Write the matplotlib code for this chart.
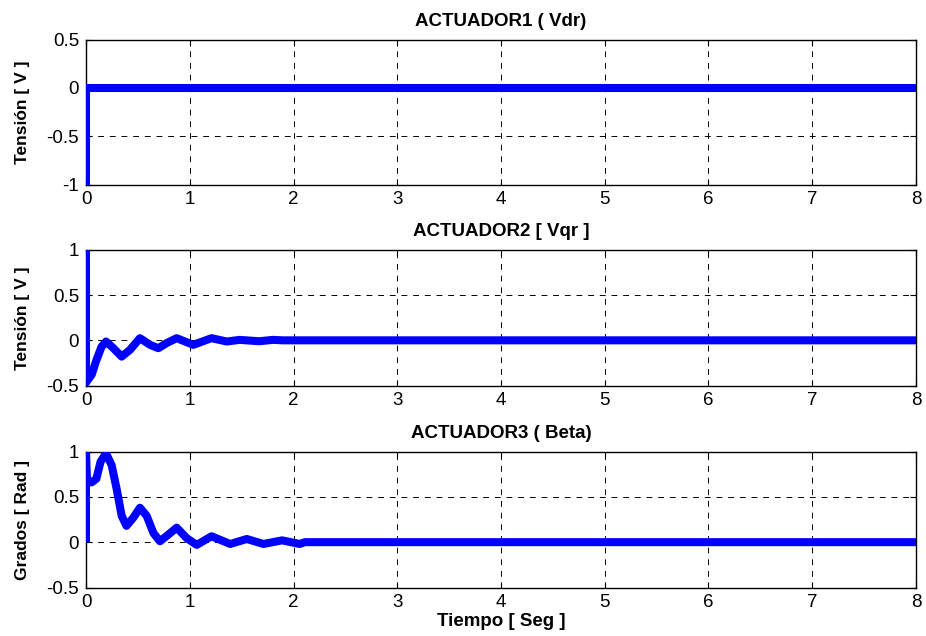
import matplotlib
matplotlib.use("Agg")
import matplotlib.pyplot as plt

plt.rcParams['font.family'] = ['Liberation Sans', 'DejaVu Sans']

# Actuator 1 (Vdr): step from -1 to 0 right at start, then flat
t1 = [0.0, 0.0, 8.0]
v1 = [-1.0, 0.0, 0.0]

# Actuator 2 (Vqr): damped oscillation settling to 0
t2 = [0.0, 0.0, 0.006, 0.055, 0.10, 0.15, 0.193, 0.264, 0.344, 0.424, 0.52,
      0.617, 0.697, 0.778, 0.874, 1.034, 1.21, 1.356, 1.48, 1.67, 1.80, 1.90, 8.0]
v2 = [1.0, -0.47, -0.457, -0.38, -0.22, -0.07, -0.013, -0.087, -0.18, -0.105, 0.024,
      -0.05, -0.087, -0.03, 0.024, -0.05, 0.024, -0.013, 0.005, -0.01, 0.005, 0.0, 0.0]

# Actuator 3 (Beta): damped oscillation settling to 0
t3 = [0.0, 0.0, 0.01, 0.055, 0.10, 0.14, 0.193, 0.247, 0.295, 0.344, 0.39, 0.456,
      0.52, 0.585, 0.65, 0.713, 0.79, 0.874, 0.97, 1.067, 1.21, 1.39, 1.55, 1.71,
      1.89, 2.06, 2.11, 8.0]
v3 = [0.0, 1.0, 0.66, 0.66, 0.70, 0.886, 0.98, 0.85, 0.59, 0.29, 0.18, 0.27,
      0.38, 0.29, 0.10, 0.01, 0.08, 0.16, 0.045, -0.03, 0.065, -0.02, 0.035, -0.02,
      0.02, -0.02, 0.0, 0.0]

titles = ['ACTUADOR1 ( Vdr)', 'ACTUADOR2 [ Vqr ]', 'ACTUADOR3 ( Beta)']
ylabels = ['Tensión [ V ]', 'Tensión [ V ]', 'Grados [ Rad ]']
yticks = [[-1, -0.5, 0, 0.5], [-0.5, 0, 0.5, 1], [-0.5, 0, 0.5, 1]]
ylims = [(-1, 0.5), (-0.5, 1), (-0.5, 1)]
xticks = list(range(0, 9))

W, H = 926, 636
fig = plt.figure(figsize=(W / 100, H / 100), dpi=100)

# axes boxes in pixels: (top, bottom)
boxes = [(39.5, 184.5), (250, 385.5), (451.5, 587.5)]
left, right = 86, 916

series = [(t1, v1), (t2, v2), (t3, v3)]
for i, ((top, bot), (t, v)) in enumerate(zip(boxes, series)):
    ax = fig.add_axes([left / W, 1 - bot / H, (right - left) / W, (bot - top) / H])
    ax.plot(t, v, color='#0000ff', lw=5.8, solid_joinstyle='round',
            solid_capstyle='butt', zorder=3)
    ax.set_xlim(0, 8)
    ax.set_ylim(*ylims[i])
    ax.set_xticks(xticks)
    ax.set_yticks(yticks[i])
    ax.set_yticklabels([f'{y:g}' for y in yticks[i]])
    ax.grid(True, color='black', linestyle=(0, (6, 6)), lw=0.7)
    ax.tick_params(direction='in', length=4, width=0.8, labelsize=13.5,
                   top=True, right=True)
    ax.tick_params(axis='x', pad=5)
    ax.tick_params(axis='y', pad=5)
    for s in ax.spines.values():
        s.set_linewidth(1.0)
    ax.set_title(titles[i], fontsize=13.5, fontweight='bold', pad=10)
    ax.set_ylabel(ylabels[i], fontsize=12.5, fontweight='bold', labelpad=12)
    if i == 2:
        ax.set_xlabel('Tiempo [ Seg ]', fontsize=13.5, fontweight='bold', labelpad=1)

fig.savefig('out.png', dpi=100)
